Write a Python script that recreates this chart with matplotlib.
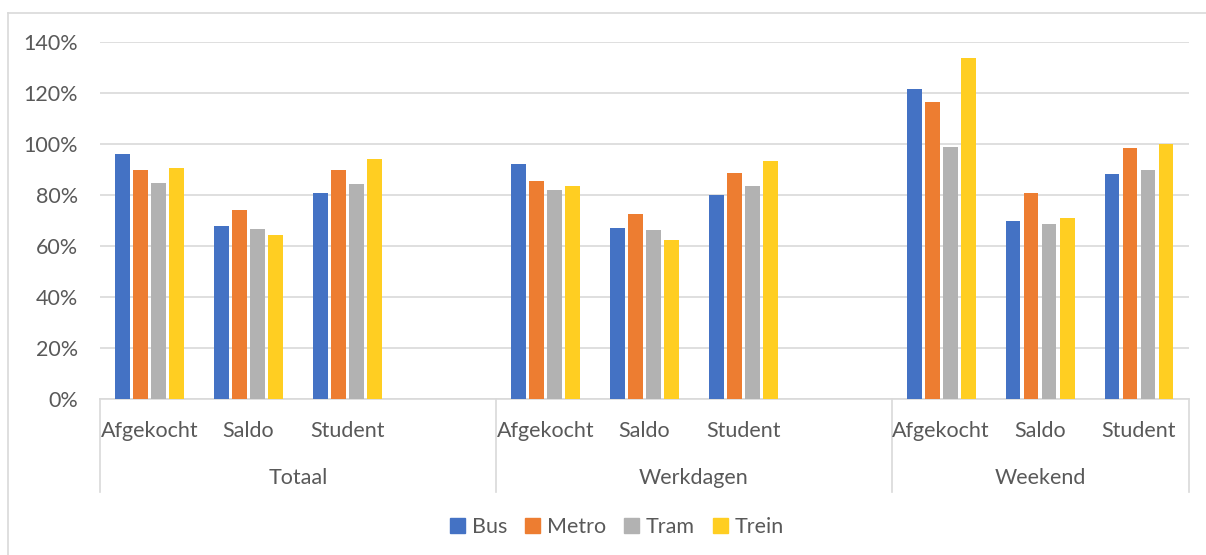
import numpy as np
import matplotlib
matplotlib.use("Agg")
import matplotlib.pyplot as plt
from matplotlib.patches import Patch

plt.rcParams['font.family'] = ['Lato', 'DejaVu Sans']

# slots per groep (laatste lege slot in Totaal en Werkdagen)
groepen = ["Totaal", "Werkdagen", "Weekend"]
subcats = ["Afgekocht", "Saldo", "Student"]
slot_pos = [0, 1, 2, 4, 5, 6, 8, 9, 10]
groep_grenzen = [-0.5, 3.5, 7.5, 10.5]

series = ["Bus", "Metro", "Tram", "Trein"]
bus = [96.1, 67.7, 80.7, 92.1, 67.1, 79.9, 121.6, 69.9, 88.2]
metro = [89.9, 74.3, 90.0, 85.3, 72.4, 88.8, 116.5, 80.7, 98.6]
tram = [84.9, 66.8, 84.5, 81.8, 66.1, 83.6, 98.9, 68.8, 89.9]
trein = [90.6, 64.3, 94.1, 83.5, 62.5, 93.4, 133.7, 70.8, 100.0]
kleuren = ["#4472C4", "#ED7D31", "#B2B2B2", "#FFCE22"]

tekstkleur = "#595959"
lijnkleur = "#D9D9D9"
fs = 15.5

fig = plt.figure(figsize=(12.06, 5.55), dpi=100)
ax = fig.add_axes([100/1206, 1 - 399/555, (1188.5 - 100)/1206, (399 - 42)/555])

stap = 0.182
x = np.array(slot_pos)
for i, (naam, vals) in enumerate(zip(series, [bus, metro, tram, trein])):
    ax.bar(x + (i - 1.5) * stap, vals, width=0.15, color=kleuren[i], label=naam, zorder=3)

ax.set_xlim(-0.5, 10.5)
ax.set_ylim(0, 140)
ax.set_yticks(np.arange(0, 141, 20))
ax.set_yticklabels([f"{v}%" for v in range(0, 141, 20)])
ax.yaxis.grid(True, color=lijnkleur, linewidth=1.2, zorder=0)
ax.tick_params(axis='y', length=0, pad=16, labelsize=fs, labelcolor=tekstkleur)
ax.set_xticks([])
for s in ["top", "right", "left"]:
    ax.spines[s].set_visible(False)
ax.spines["bottom"].set_color(lijnkleur)
ax.spines["bottom"].set_linewidth(1.2)

# categorie-as met twee niveaus
trans = ax.get_xaxis_transform()
for g in groep_grenzen:
    ax.plot([g, g], [0, -0.26], transform=trans, color=lijnkleur, linewidth=1.2, clip_on=False)
for k, p in enumerate(slot_pos):
    ax.text(p, -0.09, subcats[k % 3], transform=trans, ha='center', va='center',
            fontsize=fs, color=tekstkleur)
for j, naam in enumerate(groepen):
    midden = (groep_grenzen[j] + groep_grenzen[j + 1]) / 2
    ax.text(midden, -0.22, naam, transform=trans, ha='center', va='center',
            fontsize=fs, color=tekstkleur)

# rand om de grafiek
fig.add_artist(plt.Line2D([8/1206, 8/1206], [0, 1 - 13/555], color=lijnkleur, linewidth=1.2))
fig.add_artist(plt.Line2D([8/1206, 1], [1 - 13/555, 1 - 13/555], color=lijnkleur, linewidth=1.2))

handles = [Patch(color=c, label=n) for c, n in zip(kleuren, series)]
leg = fig.legend(handles=handles, loc='center', bbox_to_anchor=(617/1206, 1 - 527/555), ncol=4,
                 frameon=False, fontsize=fs, handlelength=0.7, handleheight=0.7,
                 handletextpad=0.3, columnspacing=0.85)
for t in leg.get_texts():
    t.set_color(tekstkleur)

fig.savefig("out.png", dpi=100)
